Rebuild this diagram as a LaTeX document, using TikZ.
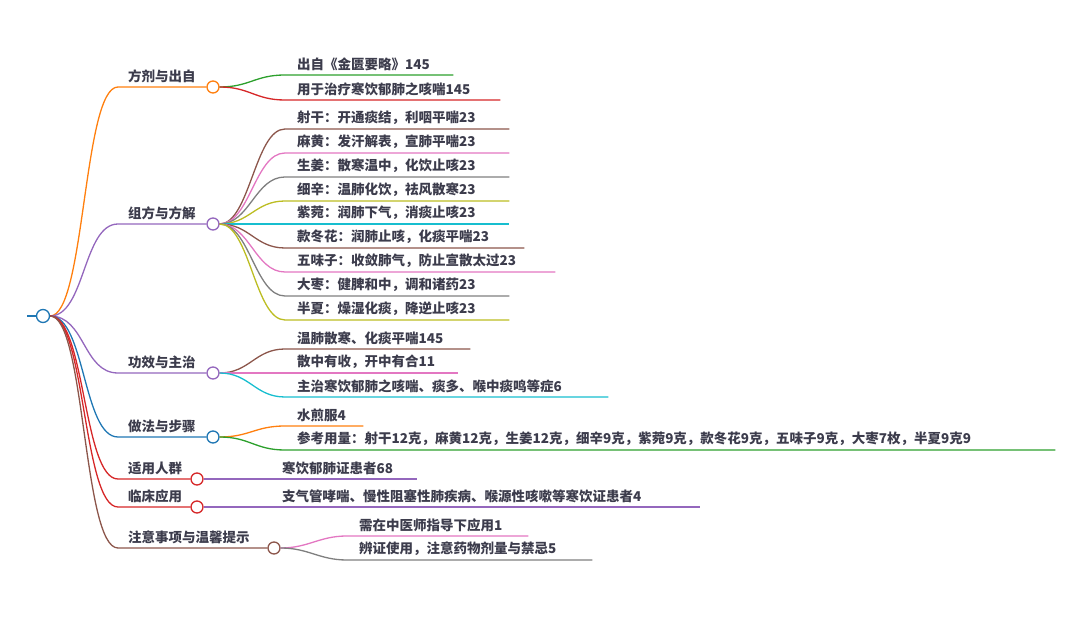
\documentclass[tikz,border=0pt]{standalone}
\usepackage{fontspec}
\setmainfont{Noto Sans CJK SC}
\definecolor{mmBlue}{HTML}{1F77B4}
\definecolor{mmOrange}{HTML}{FF7F0E}
\definecolor{mmGreen}{HTML}{2CA02C}
\definecolor{mmRed}{HTML}{D62728}
\definecolor{mmPurple}{HTML}{9467BD}
\definecolor{mmBrown}{HTML}{8C564B}
\definecolor{mmPink}{HTML}{E377C2}
\definecolor{mmGray}{HTML}{7F7F7F}
\definecolor{mmOlive}{HTML}{BCBD22}
\definecolor{mmCyan}{HTML}{17BECF}
\definecolor{mmText}{HTML}{3C3C4C}
\begin{document}
\begin{tikzpicture}[x=1pt, y=-1pt,
    topic/.style={anchor=south west, inner xsep=10pt, inner ysep=4pt, font=\fontsize{13.5}{16}\selectfont\bfseries, text=mmText},
    leaf/.style={anchor=south west, inner xsep=12pt, inner ysep=4pt, align=left, text width=#1, font=\fontsize{13.5}{16}\selectfont\bfseries, text=mmText},
    knot/.style={circle, draw=#1, fill=white, line width=1.3pt, minimum size=12pt, inner sep=0pt},
    branch/.style={draw=#1, line width=1.3pt},
    swing/.style={out=0, in=180, distance=#1}]

    \useasboundingbox (0,0) rectangle (1080,617);

    % Root
    \node[knot=mmBlue, minimum size=13pt] (root) at (43,316) {};
    \coordinate (root-in) at (27,316);
    \draw[branch=mmBlue] (root-in) -- (root);

    % Topics
    \node[topic] (fj) at (118,87) {方剂与出自};
    \node[knot=mmOrange] (fj-o) at (213,87) {};
    \node[topic] (zf) at (118,224) {组方与方解};
    \node[knot=mmPurple] (zf-o) at (213,224) {};
    \node[topic] (gx) at (118,373) {功效与主治};
    \node[knot=mmPurple] (gx-o) at (213,373) {};
    \node[topic] (zb) at (118,437) {做法与步骤};
    \node[knot=mmBlue] (zb-o) at (213,437) {};
    \node[topic] (sy) at (118,479) {适用人群};
    \node[knot=mmRed] (sy-o) at (197,479) {};
    \node[topic] (lc) at (118,507) {临床应用};
    \node[knot=mmRed] (lc-o) at (197,507) {};
    \node[topic] (zy) at (118,548) {注意事项与温馨提示};
    \node[knot=mmBrown] (zy-o) at (274,548) {};

    \draw[branch=mmOrange] (root) to[swing=35pt] (fj.south west) -- (fj-o);
    \draw[branch=mmPurple] (root) to[swing=35pt] (zf.south west) -- (zf-o);
    \draw[branch=mmPurple] (root) to[swing=35pt] (gx.south west) -- (gx-o);
    \draw[branch=mmBlue] (root) to[swing=35pt] (zb.south west) -- (zb-o);
    \draw[branch=mmRed] (root) to[swing=35pt] (sy.south west) -- (sy-o);
    \draw[branch=mmRed] (root) to[swing=35pt] (lc.south west) -- (lc-o);
    \draw[branch=mmBrown] (root) to[swing=35pt] (zy.south west) -- (zy-o);

    % Leaves of 方剂与出自
    \node[leaf=144pt] (fj1) at (285,75) {出自《金匮要略》145};
    \node[leaf=191pt] (fj2) at (285,100) {用于治疗寒饮郁肺之咳喘145};
    \draw[branch=mmGreen] (fj-o) to[swing=30pt] (fj1.south west) -- (fj1.south east);
    \draw[branch=mmRed] (fj-o) to[swing=30pt] (fj2.south west) -- (fj2.south east);

    % Leaves of 组方与方解
    \node[leaf=200pt] (zf1) at (285,129) {射干：开通痰结，利咽平喘23};
    \node[leaf=200pt] (zf2) at (285,153) {麻黄：发汗解表，宣肺平喘23};
    \node[leaf=200pt] (zf3) at (285,177) {生姜：散寒温中，化饮止咳23};
    \node[leaf=200pt] (zf4) at (285,201) {细辛：温肺化饮，祛风散寒23};
    \node[leaf=200pt] (zf5) at (285,224) {紫菀：润肺下气，消痰止咳23};
    \node[leaf=215pt] (zf6) at (285,248) {款冬花：润肺止咳，化痰平喘23};
    \node[leaf=246pt] (zf7) at (285,272) {五味子：收敛肺气，防止宣散太过23};
    \node[leaf=200pt] (zf8) at (285,296) {大枣：健脾和中，调和诸药23};
    \node[leaf=200pt] (zf9) at (285,320) {半夏：燥湿化痰，降逆止咳23};
    \draw[branch=mmBrown] (zf-o) to[swing=30pt] (zf1.south west) -- (zf1.south east);
    \draw[branch=mmPink] (zf-o) to[swing=30pt] (zf2.south west) -- (zf2.south east);
    \draw[branch=mmGray] (zf-o) to[swing=30pt] (zf3.south west) -- (zf3.south east);
    \draw[branch=mmOlive] (zf-o) to[swing=30pt] (zf4.south west) -- (zf4.south east);
    \draw[branch=mmCyan] (zf-o) to[swing=30pt] (zf5.south west) -- (zf5.south east);
    \draw[branch=mmBrown] (zf-o) to[swing=30pt] (zf6.south west) -- (zf6.south east);
    \draw[branch=mmPink] (zf-o) to[swing=30pt] (zf7.south west) -- (zf7.south east);
    \draw[branch=mmGray] (zf-o) to[swing=30pt] (zf8.south west) -- (zf8.south east);
    \draw[branch=mmOlive] (zf-o) to[swing=30pt] (zf9.south west) -- (zf9.south east);

    % Leaves of 功效与主治
    \node[leaf=161pt] (gx1) at (285,349) {温肺散寒、化痰平喘145};
    \node[leaf=149pt] (gx2) at (285,373) {散中有收，开中有合11};
    \node[leaf=299pt] (gx3) at (285,397) {主治寒饮郁肺之咳喘、痰多、喉中痰鸣等症6};
    \draw[branch=mmBrown] (gx-o) to[swing=30pt] (gx1.south west) -- (gx1.south east);
    \draw[branch=mmPink] (gx-o) to[swing=30pt] (gx2.south west) -- (gx2.south east);
    \draw[branch=mmCyan] (gx-o) to[swing=30pt] (gx3.south west) -- (gx3.south east);

    % Leaves of 做法与步骤
    \node[leaf=54pt] (zb1) at (285,426) {水煎服4};
    \node[leaf=746pt] (zb2) at (285,450) {参考用量：射干12克，麻黄12克，生姜12克，细辛9克，紫菀9克，款冬花9克，五味子9克，大枣7枚，半夏9克9};
    \draw[branch=mmOrange] (zb-o) to[swing=30pt] (zb1.south west) -- (zb1.south east);
    \draw[branch=mmGreen] (zb-o) to[swing=30pt] (zb2.south west) -- (zb2.south east);

    % Leaves of 适用人群 and 临床应用
    \node[leaf=123pt] (sy1) at (270,479) {寒饮郁肺证患者68};
    \node[leaf=406pt] (lc1) at (270,507) {支气管哮喘、慢性阻塞性肺疾病、喉源性咳嗽等寒饮证患者4};
    \draw[branch=mmPurple] (sy-o) -- (sy1.south west) -- (sy1.south east);
    \draw[branch=mmPurple] (lc-o) -- (lc1.south west) -- (lc1.south east);

    % Leaves of 注意事项与温馨提示
    \node[leaf=157pt] (zy1) at (347,536) {需在中医师指导下应用1};
    \node[leaf=221pt] (zy2) at (347,560) {辨证使用，注意药物剂量与禁忌5};
    \draw[branch=mmPink] (zy-o) to[swing=28pt] (zy1.south west) -- (zy1.south east);
    \draw[branch=mmGray] (zy-o) to[swing=28pt] (zy2.south west) -- (zy2.south east);

\end{tikzpicture}
\end{document}
